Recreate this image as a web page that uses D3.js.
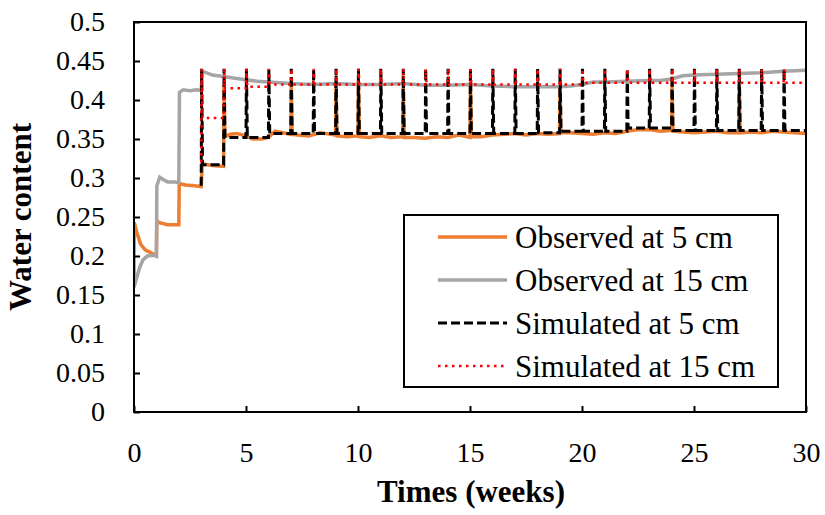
<!DOCTYPE html>
<html>
<head>
<meta charset="utf-8">
<script src="https://cdn.jsdelivr.net/npm/d3@7"></script>
<style>
  body { margin: 0; background: #fff; }
  text { font-family: "Liberation Serif", "Times New Roman", Tinos, "DejaVu Serif", "Noto Serif", serif; fill: #000; }
</style>
</head>
<body>
<div class="chart"></div>
<script>
// values (weeks, water content)
const xTicks = [0, 5, 10, 15, 20, 25, 30];
const yTicks = [0, 0.05, 0.1, 0.15, 0.2, 0.25, 0.3, 0.35, 0.4, 0.45, 0.5];
const yTickLabels = ['0', '0.05', '0.1', '0.15', '0.2', '0.25', '0.3', '0.35', '0.4', '0.45', '0.5'];

const obs5 = [
  [0, 0.17], [0.01, 0.243], [0.15, 0.228], [0.3, 0.215], [0.5, 0.208], [0.7, 0.205], [1.0, 0.2],
  [1.02, 0.246], [1.1, 0.243], [1.5, 0.24], [2.0, 0.24],
  [2.02, 0.293], [2.3, 0.291], [2.7, 0.29], [3.0, 0.289],
  [3.05, 0.318], [3.5, 0.316], [4.0, 0.315],
  [4.02, 0.42], [4.06, 0.353], [4.3, 0.356], [4.6, 0.357], [5.0, 0.354], [5.3, 0.35], [5.7, 0.35], [6.0, 0.352],
  [6.3, 0.36], [6.8, 0.357], [7.0, 0.356], [7.02, 0.42], [7.06, 0.356], [7.3, 0.355], [7.8, 0.354],
  [8.3, 0.358], [8.8, 0.356], [9.0, 0.355], [9.02, 0.42], [9.06, 0.354], [9.5, 0.353], [10.0, 0.354],
  [10.02, 0.42], [10.06, 0.353], [10.5, 0.352], [11, 0.354], [11.5, 0.352], [12.0, 0.353],
  [12.02, 0.42], [12.06, 0.352], [12.5, 0.352], [13, 0.351], [13.5, 0.353], [14, 0.352], [14.5, 0.355],
  [15.0, 0.352], [15.02, 0.42], [15.06, 0.353], [15.5, 0.353], [16, 0.355], [16.5, 0.356], [17, 0.357],
  [17.5, 0.355], [18, 0.357], [18.5, 0.356], [19.0, 0.357], [19.02, 0.42], [19.06, 0.358], [19.5, 0.358],
  [20, 0.357], [20.5, 0.356], [21, 0.358], [21.5, 0.357], [22, 0.36], [22.5, 0.362], [23, 0.362],
  [23.5, 0.36], [24.0, 0.361], [24.02, 0.42], [24.06, 0.36], [24.5, 0.359], [25, 0.358], [25.5, 0.359],
  [26, 0.36], [26.5, 0.358], [27.0, 0.358], [27.02, 0.42], [27.06, 0.358], [27.5, 0.359], [28, 0.358],
  [28.5, 0.36], [29, 0.359], [29.5, 0.358], [30, 0.357]
];

const obs15 = [
  [0, 0.16], [0.1, 0.17], [0.25, 0.185], [0.4, 0.195], [0.6, 0.2], [0.8, 0.201], [1.0, 0.2],
  [1.02, 0.29], [1.15, 0.301], [1.3, 0.298], [1.5, 0.295], [1.8, 0.295], [2.0, 0.294],
  [2.03, 0.41], [2.2, 0.413], [2.5, 0.412], [2.8, 0.413], [3.0, 0.412],
  [3.05, 0.437], [3.5, 0.432], [4.0, 0.43], [4.5, 0.428], [5, 0.426], [5.5, 0.424], [6, 0.423],
  [7, 0.421], [8, 0.42], [9, 0.421], [10, 0.42], [11, 0.42], [12, 0.421], [13, 0.419], [14, 0.419],
  [15, 0.42], [16, 0.418], [17, 0.417], [18, 0.417], [19, 0.417], [19.5, 0.418], [20, 0.42],
  [20.5, 0.423], [21, 0.423], [22, 0.424], [23, 0.425], [23.5, 0.425], [24, 0.427], [24.5, 0.431],
  [25, 0.432], [26, 0.433], [27, 0.434], [28, 0.435], [29, 0.437], [30, 0.438]
];

// simulated: weekly irrigation spikes, then level held until next week
const spikeWeeks = [3, 4, 5, 6, 7, 8, 9, 10, 11, 12, 13, 14, 15, 16, 17, 18, 19, 20, 21, 22, 23, 24, 25, 26, 27, 28, 29];
const spikePeak = 0.44;
const sim5Start = 0.29;
const sim5Base = [0.317, 0.352, 0.352, 0.357, 0.357, 0.357, 0.357, 0.357, 0.357, 0.357, 0.357, 0.357, 0.357, 0.357,
  0.357, 0.358, 0.36, 0.36, 0.36, 0.364, 0.364, 0.361, 0.361, 0.361, 0.361, 0.361, 0.361];
const sim15Start = 0.32;
const sim15Base = [0.377, 0.415, 0.417, 0.42, 0.42, 0.42, 0.42, 0.42, 0.42, 0.42, 0.42, 0.42, 0.42, 0.42,
  0.42, 0.42, 0.42, 0.422, 0.422, 0.422, 0.422, 0.422, 0.422, 0.422, 0.422, 0.422, 0.422];

const legendNames = ['Observed at 5 cm', 'Observed at 15 cm', 'Simulated at 5 cm', 'Simulated at 15 cm'];

function spikeSeries(start, base) {
  const pts = [[spikeWeeks[0], start]];
  let prev = start;
  spikeWeeks.forEach((w, i) => {
    pts.push([w, prev], [w + 0.02, spikePeak], [w + 0.06, base[i]]);
    prev = base[i];
  });
  pts.push([30, prev]);
  return pts;
}

const margin = ({top: 22, right: 19, bottom: 103, left: 134});
const width = 825 - margin.left - margin.right;
const height = 515 - margin.top - margin.bottom;

const svg = d3.select('.chart')
  .append('svg')
  .attr('width', 825)
  .attr('height', 515)
  .append('g')
  .attr('transform', 'translate(' + margin.left + ',' + margin.top + ')');

const xScale = d3.scaleLinear().domain([0, 30]).range([0, width]);
const yScale = d3.scaleLinear().domain([0, 0.5]).range([height, 0]);

const line = d3.line().x(d => xScale(d[0])).y(d => yScale(d[1]));

const series = [
  {name: legendNames[0], data: obs5, color: '#ED7D31', w: 3.5, dash: null},
  {name: legendNames[1], data: obs15, color: '#A5A5A5', w: 3.5, dash: null},
  {name: legendNames[2], data: spikeSeries(sim5Start, sim5Base), color: '#000', w: 3, dash: '9,4'},
  {name: legendNames[3], data: spikeSeries(sim15Start, sim15Base), color: '#FF0000', w: 2.5, dash: '2.5,4.5'}
];

const plot = svg.append('g').attr('clip-path', 'url(#clip)');
svg.append('clipPath').attr('id', 'clip')
  .append('rect').attr('width', width).attr('height', height);

series.forEach(s => {
  plot.append('path')
    .datum(s.data)
    .attr('fill', 'none')
    .attr('stroke', s.color)
    .attr('stroke-width', s.w)
    .attr('stroke-dasharray', s.dash)
    .attr('d', line);
});

// axes, ticks inside
const xAxis = d3.axisBottom(xScale).tickValues(xTicks).tickSize(-6).tickSizeOuter(0).tickPadding(30);
const yAxis = d3.axisLeft(yScale).tickValues(yTicks).tickSize(-6).tickSizeOuter(0).tickPadding(29)
  .tickFormat((d, i) => yTickLabels[i]);

const gx = svg.append('g').attr('transform', 'translate(0,' + height + ')').call(xAxis);
const gy = svg.append('g').call(yAxis);
[gx, gy].forEach(g => {
  g.attr('font-family', null);
  g.select('.domain').remove();
  g.selectAll('line').attr('stroke', '#000').attr('stroke-width', 2);
  g.selectAll('text').attr('font-size', 28).attr('fill', '#000');
});

svg.append('rect')
  .attr('width', width).attr('height', height)
  .attr('fill', 'none').attr('stroke', '#000').attr('stroke-width', 2);

// axis titles
svg.append('text')
  .attr('x', width / 2 + 1).attr('y', height + 90)
  .attr('text-anchor', 'middle').attr('font-size', 31).attr('font-weight', 'bold')
  .text('Times (weeks)');

svg.append('text')
  .attr('transform', 'translate(' + (-103) + ',' + (195) + ') rotate(-90)')
  .attr('text-anchor', 'middle').attr('font-size', 31).attr('font-weight', 'bold')
  .text('Water content');

// legend
const legend = svg.append('g').attr('transform', 'translate(' + (404 - margin.left) + ',' + (215 - margin.top) + ')');
legend.append('rect')
  .attr('width', 374).attr('height', 172)
  .attr('fill', '#fff').attr('stroke', '#000').attr('stroke-width', 2);

series.forEach((s, i) => {
  const y = 22 + i * 43;
  legend.append('line')
    .attr('x1', 34).attr('x2', 103).attr('y1', y).attr('y2', y)
    .attr('stroke', s.color).attr('stroke-width', s.w).attr('stroke-dasharray', s.dash);
  legend.append('text')
    .attr('x', 111).attr('y', y).attr('dy', '0.35em')
    .attr('font-size', 31)
    .text(s.name);
});
</script>
</body>
</html>
